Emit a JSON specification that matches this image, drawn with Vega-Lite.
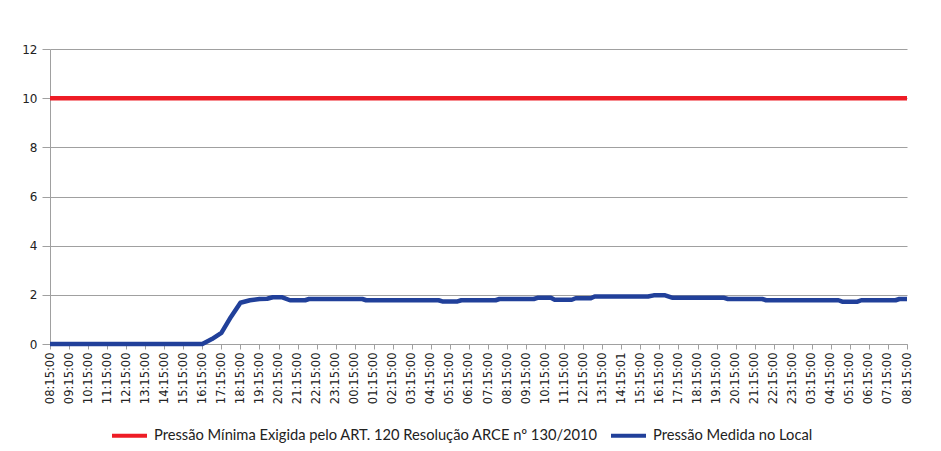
{
  "$schema": "https://vega.github.io/schema/vega-lite/v6.json",
  "width": 857,
  "height": 295,
  "autosize": {"type": "none"},
  "padding": {"left": 50, "top": 49, "right": 34, "bottom": 107},
  "background": "white",
  "config": {
    "view": {"stroke": null},
    "font": "DejaVu Sans"
  },
  "datasets": {
    "measured": [
      {"i": 0, "v": 0}, {"i": 8, "v": 0}, {"i": 8.5, "v": 0.2}, {"i": 9, "v": 0.45},
      {"i": 9.5, "v": 1.1}, {"i": 10, "v": 1.68}, {"i": 10.5, "v": 1.78}, {"i": 11, "v": 1.83},
      {"i": 11.4, "v": 1.84}, {"i": 11.7, "v": 1.9}, {"i": 12.2, "v": 1.9}, {"i": 12.6, "v": 1.78},
      {"i": 13.4, "v": 1.78}, {"i": 13.6, "v": 1.83}, {"i": 16.4, "v": 1.83}, {"i": 16.6, "v": 1.78},
      {"i": 20.4, "v": 1.78}, {"i": 20.6, "v": 1.73}, {"i": 21.4, "v": 1.73}, {"i": 21.6, "v": 1.78},
      {"i": 23.4, "v": 1.78}, {"i": 23.6, "v": 1.83}, {"i": 25.4, "v": 1.83}, {"i": 25.6, "v": 1.88},
      {"i": 26.3, "v": 1.88}, {"i": 26.5, "v": 1.8}, {"i": 27.4, "v": 1.8}, {"i": 27.6, "v": 1.86},
      {"i": 28.4, "v": 1.86}, {"i": 28.6, "v": 1.93}, {"i": 31.4, "v": 1.93}, {"i": 31.7, "v": 1.98},
      {"i": 32.3, "v": 1.98}, {"i": 32.7, "v": 1.88}, {"i": 35.4, "v": 1.88}, {"i": 35.6, "v": 1.83},
      {"i": 37.4, "v": 1.83}, {"i": 37.6, "v": 1.78}, {"i": 41.4, "v": 1.78}, {"i": 41.6, "v": 1.72},
      {"i": 42.4, "v": 1.72}, {"i": 42.6, "v": 1.78}, {"i": 44.4, "v": 1.78}, {"i": 44.6, "v": 1.83},
      {"i": 45, "v": 1.83}
    ],
    "minimum": [
      {"i": 0, "v": 10}, {"i": 45, "v": 10}
    ]
  },
  "encoding": {
    "x": {
      "field": "i", "type": "quantitative",
      "scale": {"domain": [0, 45], "nice": false, "zero": false},
      "axis": {
        "title": null,
        "values": [0,1,2,3,4,5,6,7,8,9,10,11,12,13,14,15,16,17,18,19,20,21,22,23,24,25,26,27,28,29,30,31,32,33,34,35,36,37,38,39,40,41,42,43,44,45],
        "labelExpr": "['08:15:00','09:15:00','10:15:00','11:15:00','12:15:00','13:15:00','14:15:00','15:15:00','16:15:00','17:15:00','18:15:00','19:15:00','20:15:00','21:15:00','22:15:00','23:15:00','00:15:00','01:15:00','02:15:00','03:15:00','04:15:00','05:15:00','06:15:00','07:15:00','08:15:00','09:15:00','10:15:00','11:15:00','12:15:00','13:15:00','14:15:01','15:15:00','16:15:00','17:15:00','18:15:00','19:15:00','20:15:00','21:15:00','22:15:00','23:15:00','03:15:00','04:15:00','05:15:00','06:15:00','07:15:00','08:15:00'][datum.value]",
        "labelAngle": -90,
        "labelAlign": "right",
        "labelBaseline": "middle",
        "labelFont": "DejaVu Sans",
        "labelFontSize": 11.5,
        "labelColor": "#222222",
        "labelPadding": 3,
        "labelOverlap": false,
        "labelFlush": false,
        "labelBound": false,
        "grid": false,
        "tickSize": 5,
        "tickColor": "#a0a0a0",
        "domainColor": "#a0a0a0"
      }
    },
    "y": {
      "field": "v", "type": "quantitative",
      "scale": {"domain": [0, 12], "nice": false},
      "axis": {
        "title": null,
        "values": [0, 2, 4, 6, 8, 10, 12],
        "labelFont": "DejaVu Sans",
        "labelFontSize": 12,
        "labelColor": "#222222",
        "labelPadding": 5,
        "tickSize": 8,
        "tickColor": "#a0a0a0",
        "domainColor": "#a0a0a0",
        "grid": true,
        "gridColor": "#a0a0a0",
        "gridWidth": 1
      }
    },
    "color": {
      "field": "serie", "type": "nominal",
      "scale": {
        "domain": ["Pressão Mínima Exigida pelo ART. 120 Resolução ARCE nº 130/2010", "Pressão Medida no Local"],
        "range": ["#ee1c25", "#21409a"]
      },
      "legend": {
        "title": null,
        "orient": "none",
        "legendX": 60,
        "legendY": 367,
        "direction": "horizontal",
        "symbolType": "stroke",
        "symbolStrokeWidth": 4,
        "symbolSize": 1225,
        "labelFont": "Lato",
        "labelFontSize": 14.7,
        "labelColor": "#222222",
        "labelLimit": 600,
        "columnPadding": 4,
        "labelOffset": 5
      }
    }
  },
  "layer": [
    {
      "data": {"name": "minimum"},
      "transform": [{"calculate": "'Pressão Mínima Exigida pelo ART. 120 Resolução ARCE nº 130/2010'", "as": "serie"}],
      "mark": {"type": "line", "strokeWidth": 4.5, "strokeCap": "butt"}
    },
    {
      "data": {"name": "measured"},
      "transform": [{"calculate": "'Pressão Medida no Local'", "as": "serie"}],
      "mark": {"type": "line", "strokeWidth": 4.5, "strokeCap": "butt", "strokeJoin": "round"}
    }
  ]
}
